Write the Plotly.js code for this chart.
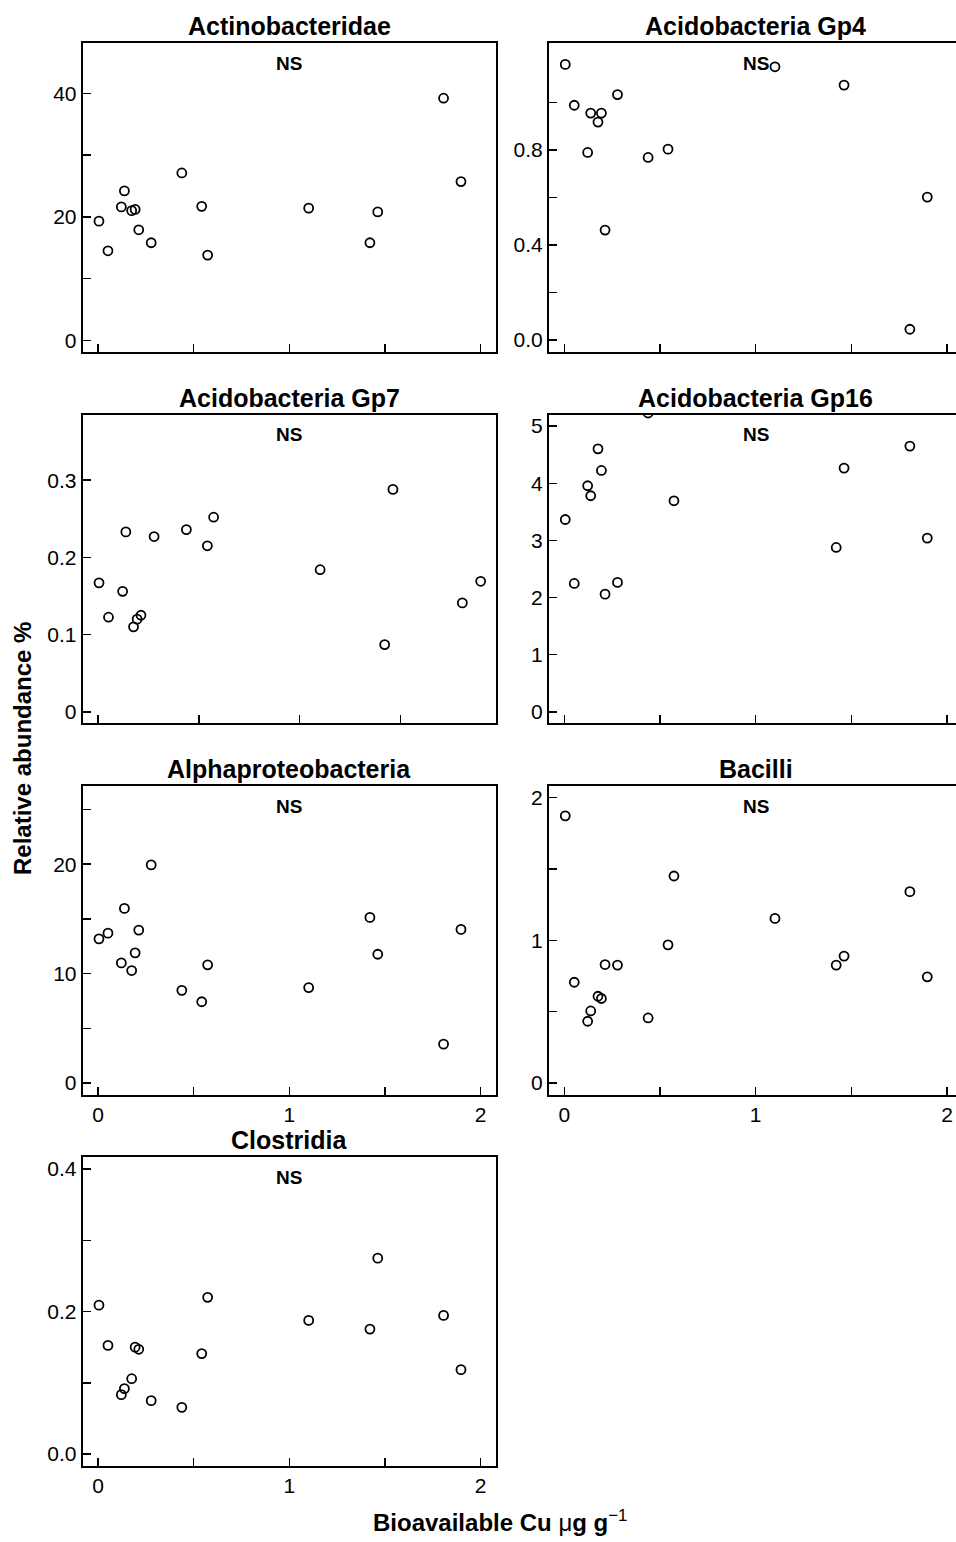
<!DOCTYPE html>
<html>
<head>
<meta charset="utf-8">
<script src="https://cdn.plot.ly/plotly-3.0.1.min.js"></script>
<style>
html, body { margin: 0; padding: 0; overflow: hidden; background: #fff; }
#chart { width: 964px; height: 1542px; }
</style>
</head>
<body>
<div id="chart"></div>
<script>
// ---- data ----
const panelTitles = ["Actinobacteridae", "Acidobacteria Gp4", "Acidobacteria Gp7", "Acidobacteria Gp16",
                     "Alphaproteobacteria", "Bacilli", "Clostridia"];
const sigLabels = ["NS", "NS", "NS", "NS", "NS", "NS", "NS"];

const bioavailableCu = [0.005, 0.052, 0.122, 0.138, 0.176, 0.194, 0.213, 0.278, 0.438, 0.542, 0.573, 1.101, 1.421, 1.462, 1.806, 1.897];

const actinobacteridae   = [19.3, 14.5, 21.6, 24.2, 21.0, 21.2, 17.9, 15.8, 27.1, 21.7, 13.8, 21.4, 15.8, 20.8, 39.2, 25.7];
const acidobacteriaGp4   = [1.161, 0.989, 0.790, 0.956, 0.918, 0.956, 0.463, 1.034, 0.769, 0.804, null, 1.151, null, 1.074, 0.045, 0.602];
const acidobacteriaGp7   = [0.167, 0.1225, 0.156, 0.233, 0.110, 0.120, 0.125, 0.227, 0.236, 0.215, 0.252, 0.184, 0.087, 0.288, 0.141, 0.169];
const acidobacteriaGp16  = [3.366, 2.246, 3.956, 3.781, 4.603, 4.224, 2.059, 2.264, 5.23, null, 3.693, null, 2.876, 4.265, 4.650, 3.040];
const alphaproteobacteria= [13.18, 13.70, 10.98, 15.96, 10.28, 11.90, 13.98, 19.94, 8.47, 7.43, 10.80, 8.72, 15.14, 11.77, 3.55, 14.04];
const bacilli            = [1.871, 0.706, 0.433, 0.505, 0.608, 0.592, 0.830, 0.826, 0.456, 0.968, 1.450, 1.153, 0.826, 0.889, 1.340, 0.744];
const clostridia         = [0.209, 0.1525, 0.0833, 0.0917, 0.1057, 0.150, 0.147, 0.0749, 0.0655, 0.141, 0.220, 0.1876, 0.1754, 0.275, 0.1946, 0.1184];

const seriesValues = [actinobacteridae, acidobacteriaGp4, acidobacteriaGp7, acidobacteriaGp16, alphaproteobacteria, bacilli, clostridia];

// labelled ticks, plus unlabelled in-between ticks (start, step)
const xTickVals = [0, 1, 2];
const xTickText = ["0", "1", "2"];
const xMinor = [0.5, 1];
const yTickVals = [
  [0, 20, 40],
  [0, 0.4, 0.8],
  [0, 0.1, 0.2, 0.3],
  [0, 1, 2, 3, 4, 5],
  [0, 10, 20],
  [0, 1, 2],
  [0, 0.2, 0.4]
];
const yTickText = [
  ["0", "20", "40"],
  ["0.0", "0.4", "0.8"],
  ["0", "0.1", "0.2", "0.3"],
  ["0", "1", "2", "3", "4", "5"],
  ["0", "10", "20"],
  ["0", "1", "2"],
  ["0.0", "0.2", "0.4"]
];
const yMinor = [[10, 20], [0.2, 0.4], null, null, [5, 10], [0.5, 1], [0.1, 0.2]];
const yRanges = [[-1.85, 48.09], [-0.05, 1.25], [-0.0148, 0.3848], [-0.2, 5.2], [-1.05, 27.15], [-0.08, 2.08], [-0.0166, 0.4166]];
const xRanges = [[-0.08, 2.08], [-0.08, 2.08], [-0.0759, 1.9729], [-0.08, 2.08], [-0.08, 2.08], [-0.08, 2.08], [-0.08, 2.08]];

const xAxisTitle = "<b>Bioavailable Cu </b>μ<b>g g</b><sup>−1</sup>";
const yAxisTitle = "<b>Relative abundance %</b>";

// ---- layout geometry (pixels) ----
const W = 964, H = 1542;
const colLeft = [82.7, 549];
const panelW = 413.3;
const rowTop = [43.3, 414.7, 786, 1157.3];
const panelH = 308.5;
const showXLabels = [false, false, false, false, true, true, true];

const FONT = "Liberation Sans, Arial, Helvetica, sans-serif";
const traces = [];
const layout = {
  width: W, height: H,
  margin: {l: 0, r: 0, t: 0, b: 0},
  paper_bgcolor: "#fff", plot_bgcolor: "#fff",
  showlegend: false,
  font: {family: FONT, color: "#000"},
  annotations: []
};

function minorTicks(spec) {
  return {ticks: "inside", ticklen: 8, tickwidth: 1.5, tickcolor: "#000", tick0: spec[0], dtick: spec[1], showgrid: false};
}

for (let i = 0; i < panelTitles.length; i++) {
  const row = Math.floor(i / 2), col = i % 2;
  const x0 = colLeft[col], x1 = x0 + panelW;
  const t = rowTop[row], b = t + panelH;
  const n = i + 1;
  const sfx = (n === 1 ? "" : String(n));
  traces.push({
    type: "scatter", mode: "markers",
    x: bioavailableCu, y: seriesValues[i],
    xaxis: "x" + sfx, yaxis: "y" + sfx,
    marker: {symbol: "circle-open", size: 9, color: "#000", line: {width: 1.8, color: "#000"}},
    cliponaxis: true, hoverinfo: "skip"
  });
  layout["xaxis" + sfx] = {
    domain: [x0 / W, x1 / W], range: xRanges[i], anchor: "y" + sfx,
    showgrid: false, zeroline: false,
    showline: true, linecolor: "#000", linewidth: 2, mirror: true,
    ticks: "inside", ticklen: 8, tickwidth: 1.5, tickcolor: "#000",
    tickmode: "array", tickvals: xTickVals, ticktext: xTickText,
    minor: minorTicks(xMinor),
    showticklabels: showXLabels[i],
    tickfont: {family: FONT, size: 21, color: "#000"}
  };
  const yax = {
    domain: [1 - b / H, 1 - t / H], range: yRanges[i], anchor: "x" + sfx,
    showgrid: false, zeroline: false,
    showline: true, linecolor: "#000", linewidth: 2, mirror: true,
    ticks: "inside", ticklen: 8, tickwidth: 1.5, tickcolor: "#000",
    tickmode: "array", tickvals: yTickVals[i], ticktext: yTickText[i],
    tickfont: {family: FONT, size: 21, color: "#000"}
  };
  if (yMinor[i] !== null) yax.minor = minorTicks(yMinor[i]);
  layout["yaxis" + sfx] = yax;
  const cx = (x0 + x1) / 2 / W;
  layout.annotations.push({
    xref: "paper", yref: "paper", x: cx, y: 1 - (t - 17) / H,
    xanchor: "center", yanchor: "middle", showarrow: false,
    text: "<b>" + panelTitles[i] + "</b>", font: {family: FONT, size: 25, color: "#000"}
  });
  layout.annotations.push({
    xref: "paper", yref: "paper", x: cx, y: 1 - (t + 20) / H,
    xanchor: "center", yanchor: "middle", showarrow: false,
    text: "<b>" + sigLabels[i] + "</b>", font: {family: FONT, size: 19, color: "#000"}
  });
}

layout.annotations.push({
  xref: "paper", yref: "paper", x: 500 / W, y: 1 - 1521 / H,
  xanchor: "center", yanchor: "middle", showarrow: false,
  text: xAxisTitle, font: {family: FONT, size: 24, color: "#000"}
});
layout.annotations.push({
  xref: "paper", yref: "paper", x: 22 / W, y: 1 - 749 / H,
  xanchor: "center", yanchor: "middle", showarrow: false, textangle: -90,
  text: yAxisTitle, font: {family: FONT, size: 24, color: "#000"}
});

Plotly.newPlot("chart", traces, layout, {staticPlot: true, displayModeBar: false});
</script>
</body>
</html>
